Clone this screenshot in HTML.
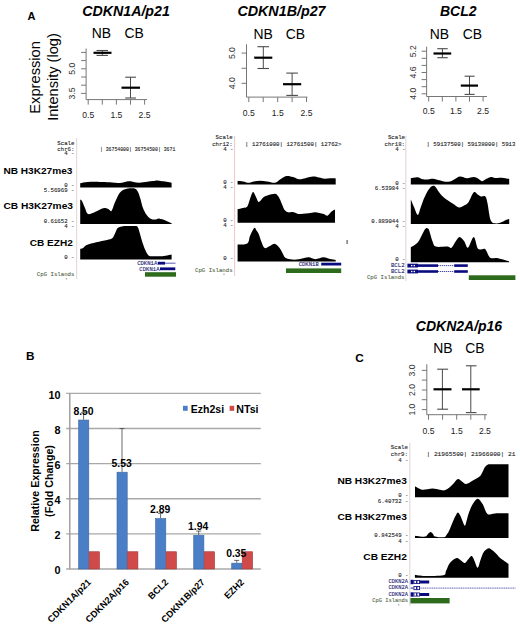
<!DOCTYPE html>
<html><head><meta charset="utf-8"><style>
html,body{margin:0;padding:0;background:#fff;}
body{width:520px;height:627px;overflow:hidden;}
svg{display:block;}
</style></head><body>
<svg width="520" height="627" viewBox="0 0 520 627">
<rect x="0" y="0" width="520" height="627" fill="#fff"/>
<text x="27.5" y="19.7" font-family='"Liberation Sans", sans-serif' font-size="11.0" font-weight="bold" font-style="normal" text-anchor="start" fill="#000">A</text>
<text x="26.0" y="359.7" font-family='"Liberation Sans", sans-serif' font-size="11.8" font-weight="bold" font-style="normal" text-anchor="start" fill="#000">B</text>
<text x="355.2" y="361.9" font-family='"Liberation Sans", sans-serif' font-size="11.8" font-weight="bold" font-style="normal" text-anchor="start" fill="#000">C</text>
<text x="82.3" y="15.5" font-family='"Liberation Sans", sans-serif' font-size="14.2" font-weight="bold" font-style="italic" text-anchor="start" fill="#000">CDKN1A/p21</text>
<text x="237.4" y="15.5" font-family='"Liberation Sans", sans-serif' font-size="14.3" font-weight="bold" font-style="italic" text-anchor="start" fill="#000">CDKN1B/p27</text>
<text x="440.0" y="15.5" font-family='"Liberation Sans", sans-serif' font-size="14.0" font-weight="bold" font-style="italic" text-anchor="start" fill="#000">BCL2</text>
<text x="415.8" y="331.3" font-family='"Liberation Sans", sans-serif' font-size="14.0" font-weight="bold" font-style="italic" text-anchor="start" fill="#000">CDKN2A/p16</text>
<text x="91.7" y="38.0" font-family='"Liberation Sans", sans-serif' font-size="13.9" font-weight="normal" font-style="normal" text-anchor="start" fill="#000">NB</text>
<text x="124.4" y="38.0" font-family='"Liberation Sans", sans-serif' font-size="13.9" font-weight="normal" font-style="normal" text-anchor="start" fill="#000">CB</text>
<text x="253.45" y="38.75" font-family='"Liberation Sans", sans-serif' font-size="13.9" font-weight="normal" font-style="normal" text-anchor="start" fill="#000">NB</text>
<text x="285.65" y="38.75" font-family='"Liberation Sans", sans-serif' font-size="13.9" font-weight="normal" font-style="normal" text-anchor="start" fill="#000">CB</text>
<text x="429.7" y="38.75" font-family='"Liberation Sans", sans-serif' font-size="13.9" font-weight="normal" font-style="normal" text-anchor="start" fill="#000">NB</text>
<text x="462.65" y="38.75" font-family='"Liberation Sans", sans-serif' font-size="13.9" font-weight="normal" font-style="normal" text-anchor="start" fill="#000">CB</text>
<text x="433.2" y="353" font-family='"Liberation Sans", sans-serif' font-size="13.9" font-weight="normal" font-style="normal" text-anchor="start" fill="#000">NB</text>
<text x="465.29999999999995" y="353" font-family='"Liberation Sans", sans-serif' font-size="13.9" font-weight="normal" font-style="normal" text-anchor="start" fill="#000">CB</text>
<text x="40.4" y="77.4" font-family='"Liberation Sans", sans-serif' font-size="14.7" font-weight="normal" font-style="normal" text-anchor="middle" fill="#000" transform="rotate(-90 40.4 77.4)">Expression</text>
<text x="58.2" y="77.0" font-family='"Liberation Sans", sans-serif' font-size="14.6" font-weight="normal" font-style="normal" text-anchor="middle" fill="#000" transform="rotate(-90 58.2 77.0)">Intensity (log)</text>
<line x1="86.1" y1="48.5" x2="86.1" y2="99.6" stroke="#777" stroke-width="1"/>
<line x1="86.1" y1="99.6" x2="147" y2="99.6" stroke="#777" stroke-width="1"/>
<line x1="81.1" y1="52.4" x2="86.1" y2="52.4" stroke="#777" stroke-width="1"/>
<line x1="81.1" y1="60.6" x2="86.1" y2="60.6" stroke="#777" stroke-width="1"/>
<line x1="81.1" y1="68.8" x2="86.1" y2="68.8" stroke="#777" stroke-width="1"/>
<line x1="81.1" y1="77.0" x2="86.1" y2="77.0" stroke="#777" stroke-width="1"/>
<line x1="81.1" y1="85.2" x2="86.1" y2="85.2" stroke="#777" stroke-width="1"/>
<line x1="81.1" y1="93.4" x2="86.1" y2="93.4" stroke="#777" stroke-width="1"/>
<text x="72.5" y="68.8" font-family='"Liberation Sans", sans-serif' font-size="8.6" font-weight="normal" font-style="normal" text-anchor="middle" fill="#333" transform="rotate(-90 72.5 68.8)" dominant-baseline="central">5.0</text>
<text x="72.5" y="93.4" font-family='"Liberation Sans", sans-serif' font-size="8.6" font-weight="normal" font-style="normal" text-anchor="middle" fill="#333" transform="rotate(-90 72.5 93.4)" dominant-baseline="central">3.5</text>
<line x1="88.2" y1="99.6" x2="88.2" y2="104.6" stroke="#777" stroke-width="1"/>
<line x1="102.3" y1="99.6" x2="102.3" y2="104.6" stroke="#777" stroke-width="1"/>
<line x1="116.4" y1="99.6" x2="116.4" y2="104.6" stroke="#777" stroke-width="1"/>
<line x1="130.5" y1="99.6" x2="130.5" y2="104.6" stroke="#777" stroke-width="1"/>
<line x1="144.6" y1="99.6" x2="144.6" y2="104.6" stroke="#777" stroke-width="1"/>
<text x="88.2" y="118.2" font-family='"Liberation Sans", sans-serif' font-size="8.6" font-weight="normal" font-style="normal" text-anchor="middle" fill="#222">0.5</text>
<text x="116.4" y="118.2" font-family='"Liberation Sans", sans-serif' font-size="8.6" font-weight="normal" font-style="normal" text-anchor="middle" fill="#222">1.5</text>
<text x="144.6" y="118.2" font-family='"Liberation Sans", sans-serif' font-size="8.6" font-weight="normal" font-style="normal" text-anchor="middle" fill="#222">2.5</text>
<line x1="102.3" y1="50.5" x2="102.3" y2="55.4" stroke="#4a4a4a" stroke-width="1"/>
<line x1="96.5" y1="50.5" x2="108.0" y2="50.5" stroke="#4a4a4a" stroke-width="1.1"/>
<line x1="96.5" y1="55.4" x2="108.0" y2="55.4" stroke="#4a4a4a" stroke-width="1.1"/>
<line x1="93.5" y1="52.8" x2="111.5" y2="52.8" stroke="#000" stroke-width="2.2"/>
<line x1="130.5" y1="77.2" x2="130.5" y2="98.0" stroke="#4a4a4a" stroke-width="1"/>
<line x1="125.2" y1="77.2" x2="136.0" y2="77.2" stroke="#4a4a4a" stroke-width="1.1"/>
<line x1="125.2" y1="98.0" x2="136.0" y2="98.0" stroke="#4a4a4a" stroke-width="1.1"/>
<line x1="121.5" y1="87.7" x2="140.0" y2="87.7" stroke="#000" stroke-width="2.2"/>
<line x1="246.5" y1="44.3" x2="246.5" y2="97.1" stroke="#777" stroke-width="1"/>
<line x1="246.5" y1="97.1" x2="307.5" y2="97.1" stroke="#777" stroke-width="1"/>
<line x1="241.5" y1="53.1" x2="246.5" y2="53.1" stroke="#777" stroke-width="1"/>
<line x1="241.5" y1="68.3" x2="246.5" y2="68.3" stroke="#777" stroke-width="1"/>
<line x1="241.5" y1="83.3" x2="246.5" y2="83.3" stroke="#777" stroke-width="1"/>
<text x="231.8" y="53.1" font-family='"Liberation Sans", sans-serif' font-size="8.6" font-weight="normal" font-style="normal" text-anchor="middle" fill="#333" transform="rotate(-90 231.8 53.1)" dominant-baseline="central">5.0</text>
<text x="231.8" y="83.3" font-family='"Liberation Sans", sans-serif' font-size="8.6" font-weight="normal" font-style="normal" text-anchor="middle" fill="#333" transform="rotate(-90 231.8 83.3)" dominant-baseline="central">4.0</text>
<line x1="248.8" y1="97.1" x2="248.8" y2="102.1" stroke="#777" stroke-width="1"/>
<line x1="263.2" y1="97.1" x2="263.2" y2="102.1" stroke="#777" stroke-width="1"/>
<line x1="277.7" y1="97.1" x2="277.7" y2="102.1" stroke="#777" stroke-width="1"/>
<line x1="292.1" y1="97.1" x2="292.1" y2="102.1" stroke="#777" stroke-width="1"/>
<line x1="306.5" y1="97.1" x2="306.5" y2="102.1" stroke="#777" stroke-width="1"/>
<text x="248.8" y="115.8" font-family='"Liberation Sans", sans-serif' font-size="8.6" font-weight="normal" font-style="normal" text-anchor="middle" fill="#222">0.5</text>
<text x="277.7" y="115.8" font-family='"Liberation Sans", sans-serif' font-size="8.6" font-weight="normal" font-style="normal" text-anchor="middle" fill="#222">1.5</text>
<text x="306.5" y="115.8" font-family='"Liberation Sans", sans-serif' font-size="8.6" font-weight="normal" font-style="normal" text-anchor="middle" fill="#222">2.5</text>
<line x1="263.3" y1="46.7" x2="263.3" y2="68.5" stroke="#4a4a4a" stroke-width="1"/>
<line x1="257.5" y1="46.7" x2="269.0" y2="46.7" stroke="#4a4a4a" stroke-width="1.1"/>
<line x1="257.5" y1="68.5" x2="269.0" y2="68.5" stroke="#4a4a4a" stroke-width="1.1"/>
<line x1="254.2" y1="57.7" x2="272.3" y2="57.7" stroke="#000" stroke-width="2.2"/>
<line x1="292.1" y1="73.1" x2="292.1" y2="95.4" stroke="#4a4a4a" stroke-width="1"/>
<line x1="286.3" y1="73.1" x2="297.9" y2="73.1" stroke="#4a4a4a" stroke-width="1.1"/>
<line x1="286.3" y1="95.4" x2="297.9" y2="95.4" stroke="#4a4a4a" stroke-width="1.1"/>
<line x1="283.0" y1="84.2" x2="301.2" y2="84.2" stroke="#000" stroke-width="2.2"/>
<line x1="426.6" y1="46.7" x2="426.6" y2="96.5" stroke="#777" stroke-width="1"/>
<line x1="426.6" y1="96.5" x2="487" y2="96.5" stroke="#777" stroke-width="1"/>
<line x1="421.6" y1="51.2" x2="426.6" y2="51.2" stroke="#777" stroke-width="1"/>
<line x1="421.6" y1="58.3" x2="426.6" y2="58.3" stroke="#777" stroke-width="1"/>
<line x1="421.6" y1="65.4" x2="426.6" y2="65.4" stroke="#777" stroke-width="1"/>
<line x1="421.6" y1="72.5" x2="426.6" y2="72.5" stroke="#777" stroke-width="1"/>
<line x1="421.6" y1="79.6" x2="426.6" y2="79.6" stroke="#777" stroke-width="1"/>
<line x1="421.6" y1="86.7" x2="426.6" y2="86.7" stroke="#777" stroke-width="1"/>
<line x1="421.6" y1="93.8" x2="426.6" y2="93.8" stroke="#777" stroke-width="1"/>
<text x="412.8" y="51.2" font-family='"Liberation Sans", sans-serif' font-size="8.6" font-weight="normal" font-style="normal" text-anchor="middle" fill="#333" transform="rotate(-90 412.8 51.2)" dominant-baseline="central">5.2</text>
<text x="412.8" y="72.5" font-family='"Liberation Sans", sans-serif' font-size="8.6" font-weight="normal" font-style="normal" text-anchor="middle" fill="#333" transform="rotate(-90 412.8 72.5)" dominant-baseline="central">4.6</text>
<text x="412.8" y="93.8" font-family='"Liberation Sans", sans-serif' font-size="8.6" font-weight="normal" font-style="normal" text-anchor="middle" fill="#333" transform="rotate(-90 412.8 93.8)" dominant-baseline="central">4.0</text>
<line x1="428.7" y1="96.5" x2="428.7" y2="101.5" stroke="#777" stroke-width="1"/>
<line x1="442.3" y1="96.5" x2="442.3" y2="101.5" stroke="#777" stroke-width="1"/>
<line x1="455.9" y1="96.5" x2="455.9" y2="101.5" stroke="#777" stroke-width="1"/>
<line x1="469.5" y1="96.5" x2="469.5" y2="101.5" stroke="#777" stroke-width="1"/>
<line x1="483.1" y1="96.5" x2="483.1" y2="101.5" stroke="#777" stroke-width="1"/>
<text x="428.7" y="114.3" font-family='"Liberation Sans", sans-serif' font-size="8.6" font-weight="normal" font-style="normal" text-anchor="middle" fill="#222">0.5</text>
<text x="455.9" y="114.3" font-family='"Liberation Sans", sans-serif' font-size="8.6" font-weight="normal" font-style="normal" text-anchor="middle" fill="#222">1.5</text>
<text x="483.1" y="114.3" font-family='"Liberation Sans", sans-serif' font-size="8.6" font-weight="normal" font-style="normal" text-anchor="middle" fill="#222">2.5</text>
<line x1="442.4" y1="48.7" x2="442.4" y2="57.7" stroke="#4a4a4a" stroke-width="1"/>
<line x1="437.3" y1="48.7" x2="447.7" y2="48.7" stroke="#4a4a4a" stroke-width="1.1"/>
<line x1="437.3" y1="57.7" x2="447.7" y2="57.7" stroke="#4a4a4a" stroke-width="1.1"/>
<line x1="433.5" y1="53.5" x2="451.2" y2="53.5" stroke="#000" stroke-width="2.2"/>
<line x1="469.5" y1="76.2" x2="469.5" y2="94.4" stroke="#4a4a4a" stroke-width="1"/>
<line x1="464.6" y1="76.2" x2="474.6" y2="76.2" stroke="#4a4a4a" stroke-width="1.1"/>
<line x1="464.6" y1="94.4" x2="474.6" y2="94.4" stroke="#4a4a4a" stroke-width="1.1"/>
<line x1="460.8" y1="85.6" x2="478.0" y2="85.6" stroke="#000" stroke-width="2.2"/>
<line x1="426.8" y1="364.2" x2="426.8" y2="414.7" stroke="#777" stroke-width="1"/>
<line x1="426.8" y1="414.7" x2="487" y2="414.7" stroke="#777" stroke-width="1"/>
<line x1="421.8" y1="370.4" x2="426.8" y2="370.4" stroke="#777" stroke-width="1"/>
<line x1="421.8" y1="380.1" x2="426.8" y2="380.1" stroke="#777" stroke-width="1"/>
<line x1="421.8" y1="390.0" x2="426.8" y2="390.0" stroke="#777" stroke-width="1"/>
<line x1="421.8" y1="399.7" x2="426.8" y2="399.7" stroke="#777" stroke-width="1"/>
<line x1="421.8" y1="409.6" x2="426.8" y2="409.6" stroke="#777" stroke-width="1"/>
<text x="412.2" y="370.4" font-family='"Liberation Sans", sans-serif' font-size="8.6" font-weight="normal" font-style="normal" text-anchor="middle" fill="#333" transform="rotate(-90 412.2 370.4)" dominant-baseline="central">3.0</text>
<text x="412.2" y="390.0" font-family='"Liberation Sans", sans-serif' font-size="8.6" font-weight="normal" font-style="normal" text-anchor="middle" fill="#333" transform="rotate(-90 412.2 390.0)" dominant-baseline="central">2.0</text>
<text x="412.2" y="409.6" font-family='"Liberation Sans", sans-serif' font-size="8.6" font-weight="normal" font-style="normal" text-anchor="middle" fill="#333" transform="rotate(-90 412.2 409.6)" dominant-baseline="central">1.0</text>
<line x1="428.5" y1="414.7" x2="428.5" y2="419.7" stroke="#777" stroke-width="1"/>
<line x1="442.6" y1="414.7" x2="442.6" y2="419.7" stroke="#777" stroke-width="1"/>
<line x1="456.7" y1="414.7" x2="456.7" y2="419.7" stroke="#777" stroke-width="1"/>
<line x1="470.8" y1="414.7" x2="470.8" y2="419.7" stroke="#777" stroke-width="1"/>
<line x1="484.9" y1="414.7" x2="484.9" y2="419.7" stroke="#777" stroke-width="1"/>
<text x="428.5" y="433.5" font-family='"Liberation Sans", sans-serif' font-size="8.6" font-weight="normal" font-style="normal" text-anchor="middle" fill="#222">0.5</text>
<text x="456.7" y="433.5" font-family='"Liberation Sans", sans-serif' font-size="8.6" font-weight="normal" font-style="normal" text-anchor="middle" fill="#222">1.5</text>
<text x="484.9" y="433.5" font-family='"Liberation Sans", sans-serif' font-size="8.6" font-weight="normal" font-style="normal" text-anchor="middle" fill="#222">2.5</text>
<line x1="442.4" y1="369.2" x2="442.4" y2="409.2" stroke="#4a4a4a" stroke-width="1"/>
<line x1="437.2" y1="369.2" x2="448.1" y2="369.2" stroke="#4a4a4a" stroke-width="1.1"/>
<line x1="437.2" y1="409.2" x2="448.1" y2="409.2" stroke="#4a4a4a" stroke-width="1.1"/>
<line x1="433.5" y1="389.3" x2="451.5" y2="389.3" stroke="#000" stroke-width="2.2"/>
<line x1="470.8" y1="365.8" x2="470.8" y2="412.6" stroke="#4a4a4a" stroke-width="1"/>
<line x1="465.9" y1="365.8" x2="476.5" y2="365.8" stroke="#4a4a4a" stroke-width="1.1"/>
<line x1="465.9" y1="412.6" x2="476.5" y2="412.6" stroke="#4a4a4a" stroke-width="1.1"/>
<line x1="462.0" y1="389.3" x2="479.7" y2="389.3" stroke="#000" stroke-width="2.2"/>
<line x1="76.7" y1="138" x2="76.7" y2="279" stroke="#d8c8c8" stroke-width="0.8"/>
<text x="74.4" y="143" font-family='"Liberation Mono", monospace' font-size="5.7" font-weight="normal" font-style="normal" text-anchor="end" fill="#222" dominant-baseline="central" stroke="#222" stroke-width="0.1">Scale</text>
<text x="74.4" y="149" font-family='"Liberation Mono", monospace' font-size="5.7" font-weight="normal" font-style="normal" text-anchor="end" fill="#222" dominant-baseline="central" stroke="#222" stroke-width="0.1">chr6:</text>
<text x="74.4" y="153.8" font-family='"Liberation Mono", monospace' font-size="5.7" font-weight="normal" font-style="normal" text-anchor="end" fill="#222" dominant-baseline="central" stroke="#222" stroke-width="0.1">4 -</text>
<text x="74.4" y="185.9" font-family='"Liberation Mono", monospace' font-size="5.7" font-weight="normal" font-style="normal" text-anchor="end" fill="#222" dominant-baseline="central" stroke="#222" stroke-width="0.1">0 -</text>
<text x="74.4" y="190.5" font-family='"Liberation Mono", monospace' font-size="5.7" font-weight="normal" font-style="normal" text-anchor="end" fill="#222" dominant-baseline="central" stroke="#222" stroke-width="0.1">5.56969 -</text>
<text x="74.4" y="221.6" font-family='"Liberation Mono", monospace' font-size="5.7" font-weight="normal" font-style="normal" text-anchor="end" fill="#222" dominant-baseline="central" stroke="#222" stroke-width="0.1">0.61652 -</text>
<text x="74.4" y="226.8" font-family='"Liberation Mono", monospace' font-size="5.7" font-weight="normal" font-style="normal" text-anchor="end" fill="#222" dominant-baseline="central" stroke="#222" stroke-width="0.1">4 -</text>
<text x="74.4" y="257.1" font-family='"Liberation Mono", monospace' font-size="5.7" font-weight="normal" font-style="normal" text-anchor="end" fill="#222" dominant-baseline="central" stroke="#222" stroke-width="0.1">0 -</text>
<text x="74.4" y="274.0" font-family='"Liberation Mono", monospace' font-size="5.7" font-weight="normal" font-style="normal" text-anchor="end" fill="#56684a" dominant-baseline="central" stroke="#56684a" stroke-width="0.1">CpG Islands</text>
<text x="99.9" y="149.6" font-family='"Liberation Mono", monospace' font-size="5.0" font-weight="normal" font-style="normal" text-anchor="start" fill="#222" dominant-baseline="central" stroke="#222" stroke-width="0.1" textLength="75.4" lengthAdjust="spacingAndGlyphs">| 36754000| 36754500| 3671</text>
<text x="3.4" y="173.7" font-family='"Liberation Sans", sans-serif' font-size="9.3" font-weight="bold" font-style="normal" text-anchor="start" fill="#000" textLength="69.0" lengthAdjust="spacingAndGlyphs">NB H3K27me3</text>
<text x="3.4" y="209.0" font-family='"Liberation Sans", sans-serif' font-size="9.3" font-weight="bold" font-style="normal" text-anchor="start" fill="#000" textLength="69.6" lengthAdjust="spacingAndGlyphs">CB H3K27me3</text>
<text x="29.8" y="245.9" font-family='"Liberation Sans", sans-serif' font-size="9.6" font-weight="bold" font-style="normal" text-anchor="start" fill="#000" textLength="43.0" lengthAdjust="spacingAndGlyphs">CB EZH2</text>
<path d="M80.2,187.5 L80.2,183.2 C81.42,183.02 85.00,182.35 87.5,182.1 C90.00,181.85 92.32,181.70 95.2,181.7 C98.08,181.70 101.58,181.93 104.8,182.1 C108.02,182.27 111.93,182.55 114.5,182.7 C117.07,182.85 118.28,183.17 120.2,183 C122.12,182.83 124.40,181.98 126,181.7 C127.60,181.42 128.52,181.23 129.8,181.3 C131.08,181.37 132.08,181.87 133.7,182.1 C135.32,182.33 137.25,182.77 139.5,182.7 C141.75,182.63 144.95,181.97 147.2,181.7 C149.45,181.43 151.40,181.32 153,181.1 C154.60,180.88 155.53,180.43 156.8,180.4 C158.07,180.37 159.00,180.68 160.6,180.9 C162.20,181.12 164.57,181.40 166.4,181.7 C168.23,182.00 170.73,182.53 171.6,182.7 L171.6,187.5 Z" fill="#000"/>
<path d="M80.2,223.9 L80.2,199.5 C80.50,199.75 81.20,199.58 82,201 C82.80,202.42 84.00,205.83 85,208 C86.00,210.17 86.33,213.33 88,214 C89.67,214.67 92.83,212.83 95,212 C97.17,211.17 99.30,209.65 101,209 C102.70,208.35 103.87,208.02 105.2,208.1 C106.53,208.18 107.95,209.02 109,209.5 C110.05,209.98 110.50,212.20 111.5,211 C112.50,209.80 113.83,205.00 115,202.3 C116.17,199.60 117.50,196.60 118.5,194.8 C119.50,193.00 120.05,192.37 121,191.5 C121.95,190.63 123.03,190.10 124.2,189.6 C125.37,189.10 126.27,188.67 128,188.5 C129.73,188.33 132.93,188.03 134.6,188.6 C136.27,189.17 137.03,190.20 138,191.9 C138.97,193.60 139.65,196.33 140.4,198.8 C141.15,201.27 141.72,204.43 142.5,206.7 C143.28,208.97 144.03,210.60 145.1,212.4 C146.17,214.20 147.63,216.33 148.9,217.5 C150.17,218.67 151.53,219.08 152.7,219.4 C153.87,219.72 154.93,219.57 155.9,219.4 C156.87,219.23 157.65,218.45 158.5,218.4 C159.35,218.35 159.83,218.77 161,219.1 C162.17,219.43 163.73,219.72 165.5,220.4 C167.27,221.08 170.58,222.73 171.6,223.2 L171.6,223.9 Z" fill="#000"/>
<path d="M80.2,259.6 L80.2,248.9 C80.62,248.80 81.60,248.97 82.7,248.3 C83.80,247.63 84.55,245.92 86.8,244.9 C89.05,243.88 92.83,243.03 96.2,242.2 C99.57,241.37 104.32,240.57 107,239.9 C109.68,239.23 110.97,239.27 112.3,238.2 C113.63,237.13 114.10,235.18 115,233.5 C115.90,231.82 116.57,229.27 117.7,228.1 C118.83,226.93 120.23,226.83 121.8,226.5 C123.37,226.17 124.87,226.17 127.1,226.1 C129.33,226.03 133.40,225.88 135.2,226.1 C137.00,226.32 137.12,226.17 137.9,227.4 C138.68,228.63 139.12,230.92 139.9,233.5 C140.68,236.08 141.58,239.88 142.6,242.9 C143.62,245.92 144.95,249.47 146,251.6 C147.05,253.73 147.78,254.92 148.9,255.7 C150.02,256.48 151.00,256.20 152.7,256.3 C154.40,256.40 156.97,256.40 159.1,256.3 C161.23,256.20 163.42,256.02 165.5,255.7 C167.58,255.38 170.58,254.62 171.6,254.4 L171.6,259.6 Z" fill="#000"/>
<text x="157.3" y="263.4" font-family='"Liberation Mono", monospace' font-size="5.6" font-weight="normal" font-style="normal" text-anchor="end" fill="#1a1a70" dominant-baseline="central" stroke="#1a1a70" stroke-width="0.1">CDKN1A</text>
<text x="159.5" y="269.0" font-family='"Liberation Mono", monospace' font-size="5.6" font-weight="normal" font-style="normal" text-anchor="end" fill="#1a1a70" dominant-baseline="central" stroke="#1a1a70" stroke-width="0.1">CDKN1A</text>
<rect x="157.8" y="261.8" width="7.2" height="2.8" fill="#0a0a80"/>
<line x1="165" y1="263.2" x2="175.5" y2="263.2" stroke="#3030a0" stroke-width="0.8"/>
<rect x="160.0" y="267.4" width="15.3" height="2.8" fill="#0a0a80"/>
<rect x="145.0" y="272.2" width="31.0" height="4.5" fill="#2d6a1c"/>
<line x1="234.6" y1="136" x2="234.6" y2="276" stroke="#e8b8b8" stroke-width="0.8"/>
<text x="232.7" y="137.9" font-family='"Liberation Mono", monospace' font-size="5.7" font-weight="normal" font-style="normal" text-anchor="end" fill="#222" dominant-baseline="central" stroke="#222" stroke-width="0.1">Scale</text>
<text x="232.7" y="144.6" font-family='"Liberation Mono", monospace' font-size="5.7" font-weight="normal" font-style="normal" text-anchor="end" fill="#222" dominant-baseline="central" stroke="#222" stroke-width="0.1">chr12:</text>
<text x="233.5" y="149.4" font-family='"Liberation Mono", monospace' font-size="5.7" font-weight="normal" font-style="normal" text-anchor="end" fill="#222" dominant-baseline="central" stroke="#222" stroke-width="0.1">4 -</text>
<text x="233.5" y="182.4" font-family='"Liberation Mono", monospace' font-size="5.7" font-weight="normal" font-style="normal" text-anchor="end" fill="#222" dominant-baseline="central" stroke="#222" stroke-width="0.1">0 -</text>
<text x="233.5" y="187.6" font-family='"Liberation Mono", monospace' font-size="5.7" font-weight="normal" font-style="normal" text-anchor="end" fill="#222" dominant-baseline="central" stroke="#222" stroke-width="0.1">4 -</text>
<text x="233.5" y="220.7" font-family='"Liberation Mono", monospace' font-size="5.7" font-weight="normal" font-style="normal" text-anchor="end" fill="#222" dominant-baseline="central" stroke="#222" stroke-width="0.1">0 -</text>
<text x="233.5" y="225.8" font-family='"Liberation Mono", monospace' font-size="5.7" font-weight="normal" font-style="normal" text-anchor="end" fill="#222" dominant-baseline="central" stroke="#222" stroke-width="0.1">4 -</text>
<text x="233.5" y="258.9" font-family='"Liberation Mono", monospace' font-size="5.7" font-weight="normal" font-style="normal" text-anchor="end" fill="#222" dominant-baseline="central" stroke="#222" stroke-width="0.1">0 -</text>
<text x="232.6" y="270.0" font-family='"Liberation Mono", monospace' font-size="5.7" font-weight="normal" font-style="normal" text-anchor="end" fill="#56684a" dominant-baseline="central" stroke="#56684a" stroke-width="0.1">CpG Islands</text>
<text x="245.1" y="144.3" font-family='"Liberation Mono", monospace' font-size="5.6" font-weight="normal" font-style="normal" text-anchor="start" fill="#222" dominant-baseline="central" stroke="#222" stroke-width="0.1" textLength="96.4" lengthAdjust="spacingAndGlyphs">| 12761000| 12761500| 12762&gt;</text>
<path d="M237.6,184.6 L237.6,180.7 C238.50,180.83 241.18,181.15 243,181.5 C244.82,181.85 246.67,182.80 248.5,182.8 C250.33,182.80 252.08,181.85 254,181.5 C255.92,181.15 257.83,180.70 260,180.7 C262.17,180.70 264.50,181.15 267,181.5 C269.50,181.85 272.83,183.13 275,182.8 C277.17,182.47 278.08,180.63 280,179.5 C281.92,178.37 284.33,176.42 286.5,176 C288.67,175.58 290.88,176.45 293,177 C295.12,177.55 297.03,179.13 299.2,179.3 C301.37,179.47 303.70,178.47 306,178 C308.30,177.53 310.83,176.58 313,176.5 C315.17,176.42 317.07,177.12 319,177.5 C320.93,177.88 322.77,178.67 324.6,178.8 C326.43,178.93 328.15,178.37 330,178.3 C331.85,178.23 334.75,178.38 335.7,178.4 L335.7,184.6 Z" fill="#000"/>
<path d="M237.6,222.7 L237.6,209.3 C238.50,209.08 241.38,208.47 243,208 C244.62,207.53 246.13,208.00 247.3,206.5 C248.47,205.00 249.05,201.42 250,199 C250.95,196.58 252.00,192.33 253,192 C254.00,191.67 255.03,195.33 256,197 C256.97,198.67 257.55,201.95 258.8,202 C260.05,202.05 261.97,198.42 263.5,197.3 C265.03,196.18 266.08,195.88 268,195.3 C269.92,194.72 273.33,193.68 275,193.8 C276.67,193.92 277.17,195.03 278,196 C278.83,196.97 279.25,198.02 280,199.6 C280.75,201.18 281.73,203.77 282.5,205.5 C283.27,207.23 283.67,208.87 284.6,210 C285.53,211.13 286.95,211.95 288.1,212.3 C289.25,212.65 290.45,212.07 291.5,212.1 C292.55,212.13 293.23,212.18 294.4,212.5 C295.57,212.82 297.07,213.78 298.5,214 C299.93,214.22 301.28,213.93 303,213.8 C304.72,213.67 306.87,213.45 308.8,213.2 C310.73,212.95 312.87,212.35 314.6,212.3 C316.33,212.25 317.67,212.62 319.2,212.9 C320.73,213.18 322.45,213.52 323.8,214 C325.15,214.48 326.13,216.08 327.3,215.8 C328.47,215.52 329.73,213.27 330.8,212.3 C331.87,211.33 333.00,210.42 333.7,210 C334.40,209.58 334.78,209.83 335.0,209.8 L335.0,222.7 Z" fill="#000"/>
<path d="M237.6,261.5 L237.6,244.6 C239.22,244.42 245.23,244.93 247.3,243.5 C249.37,242.07 248.85,238.58 250,236 C251.15,233.42 253.12,228.92 254.2,228 C255.28,227.08 255.73,229.47 256.5,230.5 C257.27,231.53 257.97,232.28 258.8,234.2 C259.63,236.12 260.53,239.70 261.5,242 C262.47,244.30 263.18,247.33 264.6,248 C266.02,248.67 268.27,246.68 270,246 C271.73,245.32 273.40,243.57 275,243.9 C276.60,244.23 278.35,246.48 279.6,248 C280.85,249.52 281.53,251.37 282.5,253 C283.47,254.63 283.77,256.70 285.4,257.8 C287.03,258.90 289.87,259.40 292.3,259.6 C294.73,259.80 297.30,259.38 300,259 C302.70,258.62 305.93,257.27 308.5,257.3 C311.07,257.33 312.90,259.20 315.4,259.2 C317.90,259.20 321.07,257.33 323.5,257.3 C325.93,257.27 327.97,258.55 330,259 C332.03,259.45 334.75,259.83 335.7,260 L335.7,261.5 Z" fill="#000"/>
<text x="318.8" y="264.2" font-family='"Liberation Mono", monospace' font-size="5.6" font-weight="normal" font-style="normal" text-anchor="end" fill="#1a1a70" dominant-baseline="central" stroke="#1a1a70" stroke-width="0.1">CDKN1B</text>
<rect x="321.2" y="262.7" width="20.0" height="2.8" fill="#0a0a80"/>
<rect x="286.0" y="268.4" width="55.2" height="4.6" fill="#2d6a1c"/>
<line x1="405.8" y1="136" x2="405.8" y2="281" stroke="#d8c8c8" stroke-width="0.8"/>
<text x="405" y="137.8" font-family='"Liberation Mono", monospace' font-size="5.7" font-weight="normal" font-style="normal" text-anchor="end" fill="#222" dominant-baseline="central" stroke="#222" stroke-width="0.1">Scale</text>
<text x="405" y="144.2" font-family='"Liberation Mono", monospace' font-size="5.7" font-weight="normal" font-style="normal" text-anchor="end" fill="#222" dominant-baseline="central" stroke="#222" stroke-width="0.1">chr18:</text>
<text x="405.5" y="149.3" font-family='"Liberation Mono", monospace' font-size="5.7" font-weight="normal" font-style="normal" text-anchor="end" fill="#222" dominant-baseline="central" stroke="#222" stroke-width="0.1">4 -</text>
<text x="405.5" y="183.0" font-family='"Liberation Mono", monospace' font-size="5.7" font-weight="normal" font-style="normal" text-anchor="end" fill="#222" dominant-baseline="central" stroke="#222" stroke-width="0.1">0 -</text>
<text x="405.5" y="188.6" font-family='"Liberation Mono", monospace' font-size="5.7" font-weight="normal" font-style="normal" text-anchor="end" fill="#222" dominant-baseline="central" stroke="#222" stroke-width="0.1">6.53984 -</text>
<text x="405.5" y="221.3" font-family='"Liberation Mono", monospace' font-size="5.7" font-weight="normal" font-style="normal" text-anchor="end" fill="#222" dominant-baseline="central" stroke="#222" stroke-width="0.1">0.889044 -</text>
<text x="405.5" y="226.8" font-family='"Liberation Mono", monospace' font-size="5.7" font-weight="normal" font-style="normal" text-anchor="end" fill="#222" dominant-baseline="central" stroke="#222" stroke-width="0.1">4 -</text>
<text x="405.5" y="259.5" font-family='"Liberation Mono", monospace' font-size="5.7" font-weight="normal" font-style="normal" text-anchor="end" fill="#222" dominant-baseline="central" stroke="#222" stroke-width="0.1">0 -</text>
<text x="404.6" y="265.6" font-family='"Liberation Mono", monospace' font-size="5.7" font-weight="normal" font-style="normal" text-anchor="end" fill="#1a1a70" dominant-baseline="central" stroke="#1a1a70" stroke-width="0.1">BCL2</text>
<text x="404.6" y="271.5" font-family='"Liberation Mono", monospace' font-size="5.7" font-weight="normal" font-style="normal" text-anchor="end" fill="#1a1a70" dominant-baseline="central" stroke="#1a1a70" stroke-width="0.1">BCL2</text>
<text x="404.5" y="277.5" font-family='"Liberation Mono", monospace' font-size="5.7" font-weight="normal" font-style="normal" text-anchor="end" fill="#56684a" dominant-baseline="central" stroke="#56684a" stroke-width="0.1">CpG Islands</text>
<text x="426.5" y="144.2" font-family='"Liberation Mono", monospace' font-size="5.6" font-weight="normal" font-style="normal" text-anchor="start" fill="#222" dominant-baseline="central" stroke="#222" stroke-width="0.1" textLength="88.9" lengthAdjust="spacingAndGlyphs">| 59137500| 59138000| 5913</text>
<path d="M410.8,184.6 L410.8,178.2 C411.88,178.03 415.27,177.02 417.3,177.2 C419.33,177.38 421.22,178.92 423,179.3 C424.78,179.68 426.25,179.58 428,179.5 C429.75,179.42 431.05,178.52 433.5,178.8 C435.95,179.08 440.02,180.73 442.7,181.2 C445.38,181.67 447.55,181.97 449.6,181.6 C451.65,181.23 453.27,179.85 455,179 C456.73,178.15 458.00,176.63 460,176.5 C462.00,176.37 464.70,178.12 467,178.2 C469.30,178.28 471.97,176.95 473.8,177 C475.63,177.05 476.63,177.80 478,178.5 C479.37,179.20 480.67,181.12 482,181.2 C483.33,181.28 484.47,179.70 486,179 C487.53,178.30 489.70,177.17 491.2,177 C492.70,176.83 493.67,177.88 495,178 C496.33,178.12 497.70,177.70 499.2,177.7 C500.70,177.70 502.45,177.82 504,178 C505.55,178.18 507.63,178.63 508.5,178.8 C509.37,178.97 509.08,178.97 509.2,179 L509.2,184.6 Z" fill="#000"/>
<path d="M410.8,223.9 L410.8,199.5 C411.33,200.75 412.85,204.43 414,207 C415.15,209.57 416.62,214.73 417.7,214.9 C418.78,215.07 419.62,210.32 420.5,208 C421.38,205.68 422.05,203.37 423,201 C423.95,198.63 425.12,195.88 426.2,193.8 C427.28,191.72 428.45,189.80 429.5,188.5 C430.55,187.20 431.50,186.25 432.5,186 C433.50,185.75 434.08,185.53 435.5,187 C436.92,188.47 439.03,192.62 441,194.8 C442.97,196.98 445.30,198.60 447.3,200.1 C449.30,201.60 451.05,202.57 453,203.8 C454.95,205.03 457.17,207.22 459,207.5 C460.83,207.78 462.42,206.38 464,205.5 C465.58,204.62 466.87,204.40 468.5,202.2 C470.13,200.00 472.22,193.53 473.8,192.3 C475.38,191.07 476.77,194.10 478,194.8 C479.23,195.50 479.97,196.22 481.2,196.5 C482.43,196.78 484.35,195.37 485.4,196.5 C486.45,197.63 486.62,199.35 487.5,203.3 C488.38,207.25 489.28,216.85 490.7,220.2 C492.12,223.55 494.23,223.05 496,223.4 C497.77,223.75 499.55,222.90 501.3,222.3 C503.05,221.70 505.18,220.33 506.5,219.8 C507.82,219.27 508.75,219.22 509.2,219.1 L509.2,223.9 Z" fill="#000"/>
<path d="M410.8,262.2 L410.8,247.3 C411.95,246.48 415.85,244.45 417.7,242.4 C419.55,240.35 420.77,237.07 421.9,235 C423.03,232.93 423.78,231.13 424.5,230 C425.22,228.87 425.62,228.43 426.2,228.2 C426.78,227.97 427.48,228.17 428,228.6 C428.52,229.03 428.55,228.68 429.3,230.8 C430.05,232.92 431.43,238.67 432.5,241.3 C433.57,243.93 433.23,245.72 435.7,246.6 C438.17,247.48 444.67,246.42 447.3,246.6 C449.93,246.78 450.08,248.58 451.5,247.7 C452.92,246.82 454.45,243.07 455.8,241.3 C457.15,239.53 458.20,237.10 459.6,237.1 C461.00,237.10 462.80,239.53 464.2,241.3 C465.60,243.07 466.40,248.40 468,247.7 C469.60,247.00 472.13,236.92 473.8,237.1 C475.47,237.28 476.25,246.85 478,248.8 C479.75,250.75 482.90,248.45 484.3,248.8 C485.70,249.15 485.52,249.50 486.4,250.9 C487.28,252.30 488.37,255.97 489.6,257.2 C490.83,258.43 492.40,258.12 493.8,258.3 C495.20,258.48 495.43,257.78 498,258.3 C500.57,258.82 507.33,260.88 509.2,261.4 L509.2,262.2 Z" fill="#000"/>
<rect x="407.4" y="263.70000000000005" width="10.6" height="3.8" fill="#0a0a80"/>
<rect x="411.0" y="264.90000000000003" width="1.4" height="1.4" fill="#fff"/>
<rect x="413.6" y="264.90000000000003" width="1.4" height="1.4" fill="#fff"/>
<rect x="418.0" y="264.3" width="20.0" height="2.6" fill="#0a0a80"/>
<line x1="438" y1="265.6" x2="454.2" y2="265.6" stroke="#3a3aa0" stroke-width="0.9" stroke-dasharray="1.3,0.7"/>
<rect x="454.2" y="264.3" width="13.6" height="2.6" fill="#0a0a80"/>
<rect x="407.4" y="269.6" width="10.6" height="3.8" fill="#0a0a80"/>
<rect x="411.0" y="270.8" width="1.4" height="1.4" fill="#fff"/>
<rect x="413.6" y="270.8" width="1.4" height="1.4" fill="#fff"/>
<rect x="418.0" y="270.2" width="20.0" height="2.6" fill="#0a0a80"/>
<line x1="438" y1="271.5" x2="454.2" y2="271.5" stroke="#3a3aa0" stroke-width="0.9" stroke-dasharray="1.3,0.7"/>
<rect x="454.2" y="270.2" width="13.6" height="2.6" fill="#0a0a80"/>
<rect x="468.8" y="275.3" width="46.6" height="4.7" fill="#2d6a1c"/>
<line x1="409.8" y1="443" x2="409.8" y2="606" stroke="#d8c8c8" stroke-width="0.8"/>
<text x="407.9" y="447.8" font-family='"Liberation Mono", monospace' font-size="5.7" font-weight="normal" font-style="normal" text-anchor="end" fill="#222" dominant-baseline="central" stroke="#222" stroke-width="0.1">Scale</text>
<text x="407.9" y="454.7" font-family='"Liberation Mono", monospace' font-size="5.7" font-weight="normal" font-style="normal" text-anchor="end" fill="#222" dominant-baseline="central" stroke="#222" stroke-width="0.1">chr9:</text>
<text x="408.5" y="460.4" font-family='"Liberation Mono", monospace' font-size="5.7" font-weight="normal" font-style="normal" text-anchor="end" fill="#222" dominant-baseline="central" stroke="#222" stroke-width="0.1">4 -</text>
<text x="408.5" y="495.4" font-family='"Liberation Mono", monospace' font-size="5.7" font-weight="normal" font-style="normal" text-anchor="end" fill="#222" dominant-baseline="central" stroke="#222" stroke-width="0.1">0 -</text>
<text x="408.5" y="501.0" font-family='"Liberation Mono", monospace' font-size="5.7" font-weight="normal" font-style="normal" text-anchor="end" fill="#222" dominant-baseline="central" stroke="#222" stroke-width="0.1">6.40732 -</text>
<text x="408.5" y="535.6" font-family='"Liberation Mono", monospace' font-size="5.7" font-weight="normal" font-style="normal" text-anchor="end" fill="#222" dominant-baseline="central" stroke="#222" stroke-width="0.1">0.842549 -</text>
<text x="408.5" y="541.1" font-family='"Liberation Mono", monospace' font-size="5.7" font-weight="normal" font-style="normal" text-anchor="end" fill="#222" dominant-baseline="central" stroke="#222" stroke-width="0.1">4 -</text>
<text x="408.5" y="575.4" font-family='"Liberation Mono", monospace' font-size="5.7" font-weight="normal" font-style="normal" text-anchor="end" fill="#222" dominant-baseline="central" stroke="#222" stroke-width="0.1">0 -</text>
<text x="407.9" y="582.0" font-family='"Liberation Mono", monospace' font-size="5.4" font-weight="normal" font-style="normal" text-anchor="end" fill="#1a1a70" dominant-baseline="central" stroke="#1a1a70" stroke-width="0.1">CDKN2A</text>
<text x="407.9" y="588.1" font-family='"Liberation Mono", monospace' font-size="5.4" font-weight="normal" font-style="normal" text-anchor="end" fill="#1a1a70" dominant-baseline="central" stroke="#1a1a70" stroke-width="0.1">CDKN2A</text>
<text x="407.9" y="594.5" font-family='"Liberation Mono", monospace' font-size="5.4" font-weight="normal" font-style="normal" text-anchor="end" fill="#1a1a70" dominant-baseline="central" stroke="#1a1a70" stroke-width="0.1">CDKN2A</text>
<text x="407.9" y="600.5" font-family='"Liberation Mono", monospace' font-size="5.4" font-weight="normal" font-style="normal" text-anchor="end" fill="#56684a" dominant-baseline="central" stroke="#56684a" stroke-width="0.1">CpG Islands</text>
<text x="426.5" y="454.7" font-family='"Liberation Mono", monospace' font-size="5.6" font-weight="normal" font-style="normal" text-anchor="start" fill="#222" dominant-baseline="central" stroke="#222" stroke-width="0.1" textLength="88.9" lengthAdjust="spacingAndGlyphs">| 21965500| 21966000| 21</text>
<text x="337.4" y="484.1" font-family='"Liberation Sans", sans-serif' font-size="9.6" font-weight="bold" font-style="normal" text-anchor="start" fill="#000" textLength="69.4" lengthAdjust="spacingAndGlyphs">NB H3K27me3</text>
<text x="337.4" y="519.6" font-family='"Liberation Sans", sans-serif' font-size="9.6" font-weight="bold" font-style="normal" text-anchor="start" fill="#000" textLength="69.4" lengthAdjust="spacingAndGlyphs">CB H3K27me3</text>
<text x="363.3" y="559.8" font-family='"Liberation Sans", sans-serif' font-size="9.6" font-weight="bold" font-style="normal" text-anchor="start" fill="#000" textLength="43.5" lengthAdjust="spacingAndGlyphs">CB EZH2</text>
<path d="M415,497.2 L415,486.3 C415.67,486.67 417.67,487.92 419,488.5 C420.33,489.08 420.75,489.80 423,489.8 C425.25,489.80 429.67,488.50 432.5,488.5 C435.33,488.50 437.98,489.50 440,489.8 C442.02,490.10 442.93,490.75 444.6,490.3 C446.27,489.85 448.43,488.32 450,487.1 C451.57,485.88 452.67,484.35 454,483 C455.33,481.65 456.67,479.25 458,479 C459.33,478.75 460.63,480.68 462,481.5 C463.37,482.32 464.38,484.08 466.2,483.9 C468.02,483.72 470.67,481.62 472.9,480.4 C475.13,479.18 478.00,478.00 479.6,476.6 C481.20,475.20 481.60,473.60 482.5,472 C483.40,470.40 484.08,468.25 485,467 C485.92,465.75 486.83,464.97 488,464.5 C489.17,464.03 488.58,464.25 492,464.2 C495.42,464.15 505.75,464.20 508.5,464.2 L508.5,497.2 Z" fill="#000"/>
<path d="M415,538 L415,535.7 C415.83,535.82 418.27,536.25 420,536.4 C421.73,536.55 424.07,537.00 425.4,536.6 C426.73,536.20 427.13,534.75 428,534 C428.87,533.25 429.77,532.10 430.6,532.1 C431.43,532.10 432.27,533.28 433,534 C433.73,534.72 433.20,535.85 435,536.4 C436.80,536.95 441.88,537.53 443.8,537.3 C445.72,537.07 445.60,536.12 446.5,535 C447.40,533.88 447.93,533.30 449.2,530.6 C450.47,527.90 452.95,521.42 454.1,518.8 C455.25,516.18 455.45,515.95 456.1,514.9 C456.75,513.85 457.27,512.32 458,512.5 C458.73,512.68 459.75,514.58 460.5,516 C461.25,517.42 461.77,519.38 462.5,521 C463.23,522.62 464.18,525.87 464.9,525.7 C465.62,525.53 466.15,522.13 466.8,520 C467.45,517.87 467.80,515.55 468.8,512.9 C469.80,510.25 471.32,506.45 472.8,504.1 C474.28,501.75 476.07,498.80 477.7,498.8 C479.33,498.80 480.97,501.58 482.6,504.1 C484.23,506.62 485.43,512.35 487.5,513.9 C489.57,515.45 491.50,513.50 495,513.4 C498.50,513.30 506.25,513.32 508.5,513.3 L508.5,538 Z" fill="#000"/>
<path d="M414.9,577.8 L414.9,574.7 C415.75,574.85 418.20,575.37 420,575.6 C421.80,575.83 421.82,576.15 425.7,576.1 C429.58,576.05 439.92,576.15 443.3,575.3 C446.68,574.45 445.02,572.90 446,571 C446.98,569.10 448.03,565.73 449.2,563.9 C450.37,562.07 451.68,560.98 453,560 C454.32,559.02 455.77,557.92 457.1,558 C458.43,558.08 459.70,559.67 461,560.5 C462.30,561.33 463.65,563.25 464.9,563 C466.15,562.75 467.35,560.15 468.5,559 C469.65,557.85 470.80,555.77 471.8,556.1 C472.80,556.43 473.52,559.05 474.5,561 C475.48,562.95 476.70,567.97 477.7,567.8 C478.70,567.63 479.52,562.60 480.5,560 C481.48,557.40 482.27,554.17 483.6,552.2 C484.93,550.23 487.03,548.53 488.5,548.2 C489.97,547.87 491.15,549.32 492.4,550.2 C493.65,551.08 494.70,552.20 496,553.5 C497.30,554.80 498.12,556.27 500.2,558 C502.28,559.73 507.12,562.92 508.5,563.9 L508.5,577.8 Z" fill="#000"/>
<rect x="410.6" y="579.8" width="3.0" height="4.4" fill="#0a0a80"/>
<rect x="413.9" y="580.4" width="2.6" height="3.2" fill="none" stroke="#0a0a80" stroke-width="0.8"/>
<rect x="417.0" y="580.4" width="2.6" height="3.2" fill="none" stroke="#0a0a80" stroke-width="0.8"/>
<rect x="419.8" y="580.5" width="9.4" height="3.0" fill="#0a0a80"/>
<rect x="410.6" y="592.3" width="3.0" height="4.4" fill="#0a0a80"/>
<rect x="413.9" y="592.9" width="2.6" height="3.2" fill="none" stroke="#0a0a80" stroke-width="0.8"/>
<rect x="417.0" y="592.9" width="2.6" height="3.2" fill="none" stroke="#0a0a80" stroke-width="0.8"/>
<rect x="419.8" y="593.0" width="9.4" height="3.0" fill="#0a0a80"/>
<line x1="419.5" y1="588.1" x2="515.4" y2="588.1" stroke="#3030a0" stroke-width="0.8" stroke-dasharray="1.2,0.6"/>
<line x1="410.6" y1="588.1" x2="413.5" y2="588.1" stroke="#0a0a80" stroke-width="0.9"/>
<rect x="413.9" y="586.5" width="2.6" height="3.2" fill="none" stroke="#0a0a80" stroke-width="0.8"/>
<rect x="417.0" y="586.5" width="2.6" height="3.2" fill="none" stroke="#0a0a80" stroke-width="0.8"/>
<rect x="410.4" y="598.0" width="39.2" height="5.4" fill="#2d6a1c"/>
<rect x="346.3" y="240.0" width="1.7" height="4.0" fill="#8a8a8a"/>
<rect x="65.8" y="278.3" width="1.0" height="1.0" fill="#666"/>
<rect x="223.5" y="273.8" width="1.0" height="1.0" fill="#666"/>
<rect x="398.2" y="604.3" width="1.0" height="1.0" fill="#666"/>
<line x1="66.2" y1="569.0" x2="260.8" y2="569.0" stroke="#a8a8a8" stroke-width="1.4"/>
<text x="60.5" y="574.3" font-family='"Liberation Sans", sans-serif' font-size="10.8" font-weight="bold" font-style="normal" text-anchor="end" fill="#000">0</text>
<line x1="66.2" y1="533.88" x2="260.8" y2="533.88" stroke="#a8a8a8" stroke-width="1.4"/>
<text x="60.5" y="539.18" font-family='"Liberation Sans", sans-serif' font-size="10.8" font-weight="bold" font-style="normal" text-anchor="end" fill="#000">2</text>
<line x1="66.2" y1="498.76" x2="260.8" y2="498.76" stroke="#a8a8a8" stroke-width="1.4"/>
<text x="60.5" y="504.06" font-family='"Liberation Sans", sans-serif' font-size="10.8" font-weight="bold" font-style="normal" text-anchor="end" fill="#000">4</text>
<line x1="66.2" y1="463.64" x2="260.8" y2="463.64" stroke="#a8a8a8" stroke-width="1.4"/>
<text x="60.5" y="468.94" font-family='"Liberation Sans", sans-serif' font-size="10.8" font-weight="bold" font-style="normal" text-anchor="end" fill="#000">6</text>
<line x1="66.2" y1="428.52" x2="260.8" y2="428.52" stroke="#a8a8a8" stroke-width="1.4"/>
<text x="60.5" y="433.82" font-family='"Liberation Sans", sans-serif' font-size="10.8" font-weight="bold" font-style="normal" text-anchor="end" fill="#000">8</text>
<line x1="66.2" y1="393.4" x2="260.8" y2="393.4" stroke="#a8a8a8" stroke-width="1.4"/>
<text x="60.5" y="398.7" font-family='"Liberation Sans", sans-serif' font-size="10.8" font-weight="bold" font-style="normal" text-anchor="end" fill="#000">10</text>
<line x1="69.8" y1="393.4" x2="69.8" y2="569.0" stroke="#999" stroke-width="1.4"/>
<rect x="78.6" y="420.04" width="10.2" height="148.95999999999998" fill="#4a7ec6" stroke="#3d679f" stroke-width="0.6"/>
<rect x="89.1" y="551.74" width="10.4" height="17.259999999999998" fill="#cf4a48" stroke="#a23a38" stroke-width="0.6"/>
<line x1="83.6" y1="419.74" x2="83.6" y2="412.3648" stroke="#444" stroke-width="0.8"/>
<line x1="81.1" y1="412.3648" x2="86.1" y2="412.3648" stroke="#444" stroke-width="0.8"/>
<rect x="117.0" y="472.1932" width="10.2" height="96.8068" fill="#4a7ec6" stroke="#3d679f" stroke-width="0.6"/>
<rect x="127.5" y="551.74" width="10.4" height="17.259999999999998" fill="#cf4a48" stroke="#a23a38" stroke-width="0.6"/>
<line x1="122.0" y1="471.8932" x2="122.0" y2="428.52" stroke="#444" stroke-width="0.8"/>
<line x1="119.5" y1="428.52" x2="124.5" y2="428.52" stroke="#444" stroke-width="0.8"/>
<rect x="155.60000000000002" y="518.5516" width="10.2" height="50.4484" fill="#4a7ec6" stroke="#3d679f" stroke-width="0.6"/>
<rect x="166.10000000000002" y="551.74" width="10.4" height="17.259999999999998" fill="#cf4a48" stroke="#a23a38" stroke-width="0.6"/>
<line x1="160.60000000000002" y1="518.2516" x2="160.60000000000002" y2="513.3348" stroke="#444" stroke-width="0.8"/>
<line x1="158.10000000000002" y1="513.3348" x2="163.10000000000002" y2="513.3348" stroke="#444" stroke-width="0.8"/>
<rect x="193.70000000000002" y="535.2335999999999" width="10.2" height="33.7664" fill="#4a7ec6" stroke="#3d679f" stroke-width="0.6"/>
<rect x="204.20000000000002" y="551.74" width="10.4" height="17.259999999999998" fill="#cf4a48" stroke="#a23a38" stroke-width="0.6"/>
<line x1="198.70000000000002" y1="534.9336" x2="198.70000000000002" y2="531.0704" stroke="#444" stroke-width="0.8"/>
<line x1="196.20000000000002" y1="531.0704" x2="201.20000000000002" y2="531.0704" stroke="#444" stroke-width="0.8"/>
<rect x="231.70000000000002" y="563.154" width="10.2" height="5.845999999999999" fill="#4a7ec6" stroke="#3d679f" stroke-width="0.6"/>
<rect x="242.20000000000002" y="551.74" width="10.4" height="17.259999999999998" fill="#cf4a48" stroke="#a23a38" stroke-width="0.6"/>
<line x1="236.70000000000002" y1="562.854" x2="236.70000000000002" y2="560.3956" stroke="#444" stroke-width="0.8"/>
<line x1="234.20000000000002" y1="560.3956" x2="239.20000000000002" y2="560.3956" stroke="#444" stroke-width="0.8"/>
<text x="83.5" y="415.0" font-family='"Liberation Sans", sans-serif' font-size="10.4" font-weight="bold" font-style="normal" text-anchor="middle" fill="#000">8.50</text>
<text x="121.6" y="466.9" font-family='"Liberation Sans", sans-serif' font-size="10.4" font-weight="bold" font-style="normal" text-anchor="middle" fill="#000">5.53</text>
<text x="160.1" y="512.9" font-family='"Liberation Sans", sans-serif' font-size="10.4" font-weight="bold" font-style="normal" text-anchor="middle" fill="#000">2.89</text>
<text x="198.1" y="529.8" font-family='"Liberation Sans", sans-serif' font-size="10.4" font-weight="bold" font-style="normal" text-anchor="middle" fill="#000">1.94</text>
<text x="236.3" y="557.3" font-family='"Liberation Sans", sans-serif' font-size="10.4" font-weight="bold" font-style="normal" text-anchor="middle" fill="#000">0.35</text>
<rect x="183.0" y="405.8" width="4.7" height="5.0" fill="#4a7ec6"/>
<text x="190.8" y="412.7" font-family='"Liberation Sans", sans-serif' font-size="10.5" font-weight="bold" font-style="normal" text-anchor="start" fill="#000">Ezh2si</text>
<rect x="229.6" y="405.8" width="4.6" height="5.0" fill="#cf4a48"/>
<text x="236.3" y="412.7" font-family='"Liberation Sans", sans-serif' font-size="10.6" font-weight="bold" font-style="normal" text-anchor="start" fill="#000">NTsi</text>
<text x="91.6" y="582.8" font-family='"Liberation Sans", sans-serif' font-size="9.25" font-weight="bold" font-style="normal" text-anchor="end" fill="#000" transform="rotate(-45 91.6 582.8)">CDKN1A/p21</text>
<text x="129.6" y="582.8" font-family='"Liberation Sans", sans-serif' font-size="9.25" font-weight="bold" font-style="normal" text-anchor="end" fill="#000" transform="rotate(-45 129.6 582.8)">CDKN2A/p16</text>
<text x="168.8" y="582.8" font-family='"Liberation Sans", sans-serif' font-size="9.25" font-weight="bold" font-style="normal" text-anchor="end" fill="#000" transform="rotate(-45 168.8 582.8)">BCL2</text>
<text x="205.3" y="582.8" font-family='"Liberation Sans", sans-serif' font-size="9.25" font-weight="bold" font-style="normal" text-anchor="end" fill="#000" transform="rotate(-45 205.3 582.8)">CDKN1B/p27</text>
<text x="244.7" y="582.8" font-family='"Liberation Sans", sans-serif' font-size="9.25" font-weight="bold" font-style="normal" text-anchor="end" fill="#000" transform="rotate(-45 244.7 582.8)">EZH2</text>
<text x="39.0" y="481.0" font-family='"Liberation Sans", sans-serif' font-size="10.7" font-weight="bold" font-style="normal" text-anchor="middle" fill="#000" transform="rotate(-90 39.0 481.0)">Relative Expression</text>
<text x="53.0" y="481.0" font-family='"Liberation Sans", sans-serif' font-size="10.7" font-weight="bold" font-style="normal" text-anchor="middle" fill="#000" transform="rotate(-90 53.0 481.0)">(Fold Change)</text>
</svg>
</body></html>
